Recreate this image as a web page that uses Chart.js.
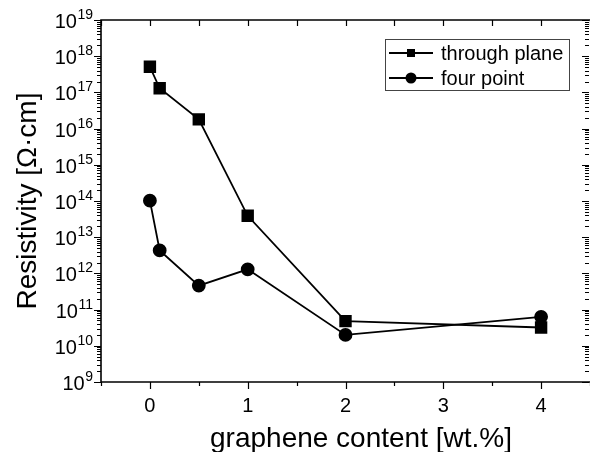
<!DOCTYPE html>
<html>
<head>
<meta charset="utf-8">
<script src="https://cdn.jsdelivr.net/npm/chart.js@4"></script>
<style>
html,body{margin:0;padding:0;background:#fff;}
#wrap{width:590px;height:452px;}
</style>
</head>
<body>
<div id="wrap"><canvas id="c" width="590" height="452"></canvas></div>
<script>
const grapheneContent = [0, 0.1, 0.5, 1, 2, 4];
const throughPlane = [5.1e17, 1.3e17, 1.8e16, 3.9e13, 4.8e10, 3.2e10];
const fourPoint = [1.02e14, 4.3e12, 4.6e11, 1.3e12, 2.0e10, 6.3e10];
const xTickLabels = [0, 1, 2, 3, 4];
const yExponents = [9, 10, 11, 12, 13, 14, 15, 16, 17, 18, 19];
const seriesNames = ['through plane', 'four point'];
const xTitle = 'graphene content [wt.%]';
const yTitle = 'Resistivity [\u03A9\u00B7cm]';

const FONT = '"Liberation Sans", Arial, sans-serif';

const framePlugin = {
  id: 'frame',
  afterDraw(chart) {
    const {ctx, chartArea: a, scales: {x, y}} = chart;
    ctx.save();
    ctx.strokeStyle = '#000';
    ctx.fillStyle = '#000';
    ctx.lineWidth = 1.6;
    ctx.beginPath();
    ctx.moveTo(a.right + 2, a.top); ctx.lineTo(a.left, a.top);
    ctx.lineTo(a.left, a.bottom); ctx.lineTo(a.right + 2, a.bottom);
    ctx.stroke();
    ctx.lineWidth = 1.2;
    // x ticks
    for (let i = -1; i <= 9; i++) {
      const v = i * 0.5;
      const px = Math.round(x.getPixelForValue(v)) + 0.5;
      const major = i % 2 === 0;
      ctx.beginPath();
      ctx.moveTo(px, a.bottom); ctx.lineTo(px, a.bottom + (major ? 7 : 4));
      ctx.moveTo(px, a.top); ctx.lineTo(px, a.top + 6);
      ctx.stroke();
    }
    // y ticks
    const rx = a.right - 1;
    yExponents.forEach((e) => {
      const py = Math.round(y.getPixelForValue(Math.pow(10, e))) + 0.5;
      ctx.beginPath();
      ctx.moveTo(a.left, py); ctx.lineTo(a.left - 7, py);
      ctx.moveTo(rx, py); ctx.lineTo(rx - 7, py);
      ctx.stroke();
      if (e < 19) {
        ctx.lineWidth = 1;
        for (let m = 2; m <= 9; m++) {
          const pm = Math.round(y.getPixelForValue(m * Math.pow(10, e))) + 0.5;
          ctx.beginPath();
          ctx.moveTo(a.left, pm); ctx.lineTo(a.left - 4, pm);
          ctx.moveTo(rx, pm); ctx.lineTo(rx - 4, pm);
          ctx.stroke();
        }
        ctx.lineWidth = 1.2;
      }
    });
    // x tick labels
    ctx.font = '20px ' + FONT;
    ctx.textAlign = 'center';
    ctx.textBaseline = 'alphabetic';
    xTickLabels.forEach((v) => {
      ctx.fillText(String(v), x.getPixelForValue(v), a.bottom + 30);
    });
    // y tick labels with superscripts
    yExponents.forEach((e) => {
      const py = y.getPixelForValue(Math.pow(10, e));
      ctx.font = '14px ' + FONT;
      const ew = ctx.measureText(String(e)).width;
      const right = a.left - 8;
      ctx.textAlign = 'right';
      ctx.fillText(String(e), right, py - 1);
      ctx.font = '20px ' + FONT;
      ctx.fillText('10', right - ew - 0.5, py + 8);
    });
    // axis titles
    ctx.font = '28px ' + FONT;
    ctx.textAlign = 'center';
    ctx.fillText(xTitle, 361, 447);
    ctx.save();
    ctx.translate(36, (a.top + a.bottom) / 2);
    ctx.rotate(-Math.PI / 2);
    ctx.fillText(yTitle, 0, 0);
    ctx.restore();
    // legend
    const lx = 385, ly = 39, lw = 184, lh = 51;
    ctx.lineWidth = 1;
    ctx.strokeStyle = '#444';
    ctx.strokeRect(lx + 0.5, ly + 0.5, lw, lh);
    ctx.strokeStyle = '#000';
    ctx.lineWidth = 1.8;
    const rows = [ly + 14, ly + 39];
    chart.data.datasets.forEach((ds, i) => {
      const ry = rows[i];
      ctx.beginPath();
      ctx.moveTo(lx + 4, ry); ctx.lineTo(lx + 48, ry);
      ctx.stroke();
      const cx = lx + 26;
      if (ds.pointStyle === 'rect') {
        ctx.fillRect(cx - 4, ry - 4, 8, 8);
      } else {
        ctx.beginPath(); ctx.arc(cx, ry, 5.5, 0, Math.PI * 2); ctx.fill();
      }
      ctx.font = '20px ' + FONT;
      ctx.textAlign = 'left';
      ctx.fillText(ds.label, lx + 56, ry + 7);
    });
    ctx.restore();
  }
};

new Chart(document.getElementById('c'), {
  type: 'line',
  data: {
    datasets: [
      {
        label: seriesNames[0],
        data: grapheneContent.map((g, i) => ({x: g, y: throughPlane[i]})),
        borderColor: '#000', backgroundColor: '#000', borderWidth: 1.8,
        pointStyle: 'rect', pointRadius: 7.5, pointHoverRadius: 7.5,
        tension: 0, fill: false
      },
      {
        label: seriesNames[1],
        data: grapheneContent.map((g, i) => ({x: g, y: fourPoint[i]})),
        borderColor: '#000', backgroundColor: '#000', borderWidth: 1.8,
        pointStyle: 'circle', pointRadius: 6, pointHoverRadius: 6,
        tension: 0, fill: false
      }
    ]
  },
  options: {
    responsive: false,
    animation: false,
    events: [],
    layout: {autoPadding: false, padding: {top: 20, right: 0, left: 0, bottom: 0}},
    plugins: {legend: {display: false}, tooltip: {enabled: false}},
    scales: {
      x: {
        type: 'linear', min: -0.5, max: 4.5,
        ticks: {display: false}, grid: {display: false}, border: {display: false},
        afterFit(s) { s.height = 70; }
      },
      y: {
        type: 'logarithmic', min: 1e9, max: 1e19,
        ticks: {display: false}, grid: {display: false}, border: {display: false},
        afterFit(s) { s.width = 101; }
      }
    }
  },
  plugins: [framePlugin]
});
</script>
</body>
</html>
